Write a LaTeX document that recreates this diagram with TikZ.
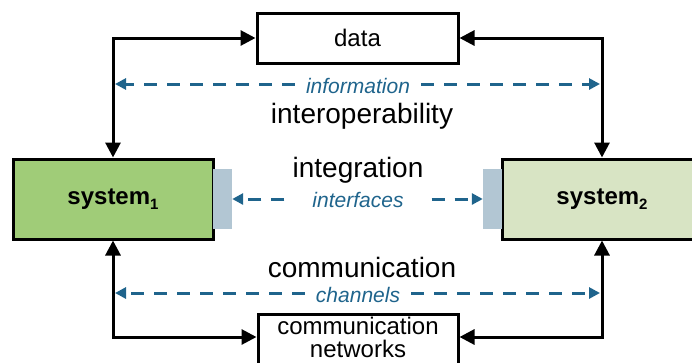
\documentclass[tikz,border=0pt]{standalone}
\usepackage{fontspec}
\setmainfont{Liberation Sans}
\usetikzlibrary{arrows.meta}
\definecolor{sysgreen}{RGB}{160,204,120}
\definecolor{syslight}{RGB}{216,228,196}
\definecolor{ifblue}{RGB}{178,198,211}
\definecolor{linkblue}{RGB}{31,100,140}
\tikzset{
  box/.style={draw=black, line width=3pt, rectangle, inner sep=0pt, align=center},
  sysbox/.style={box, minimum width=200pt, minimum height=80pt, font=\fontsize{24}{26}\selectfont\bfseries},
  ifbox/.style={fill=ifblue, draw=none, minimum width=19pt, minimum height=60pt, inner sep=0pt},
  conn/.style={line width=3pt, {Triangle[length=15pt,width=15pt]}-{Triangle[length=15pt,width=15pt]}},
  dhalf/.style={draw=linkblue, line width=3pt, dash pattern=on 13pt off 10pt,
    -{Triangle[length=11pt,width=11pt]}},
  big/.style={font=\fontsize{28}{30}\selectfont},
  blab/.style={font=\fontsize{21}{23}\selectfont\itshape, text=linkblue, inner ysep=2pt}
}
\newcommand{\subidx}[1]{{\fontsize{15}{15}\selectfont\raisebox{-5pt}{#1}}}
\begin{document}
\begin{tikzpicture}[x=1pt,y=-1pt]
\useasboundingbox (0,0) rectangle (692,362);
\clip (0,0) rectangle (692,362);
% boxes
\node[box, minimum width=201pt, minimum height=50pt, font=\fontsize{24}{26}\selectfont] (data) at (357.5,38) {data};
\node[box, anchor=north, minimum width=200pt, minimum height=80pt] (comm) at (358,313) {};
\node[align=center, inner sep=0pt, font=\fontsize{24}{23}\selectfont] (commtext) at (358,337) {communication\\networks};
\node[sysbox, fill=sysgreen] (sys1) at (113,199) {system\subidx{1}};
\node[sysbox, fill=syslight] (sys2) at (602,199) {system\subidx{2}};
\node[ifbox] (if1) at (222.5,199) {};
\node[ifbox] (if2) at (492.5,199) {};
% black connectors
\draw[conn] (sys1.north) |- (data.west);
\draw[conn] (sys2.north) |- (data.east);
\draw[conn] (sys1.south) |- (comm.west |- commtext.center);
\draw[conn] (sys2.south) |- (comm.east |- commtext.center);
% labels
\node[blab, inner xsep=11pt] (info) at (358,86) {information};
\node[blab, inner xsep=11pt] (chan) at (358,295) {channels};
\node[blab, inner xsep=28pt] (intf) at (358,200) {interfaces};
\node[big] (interop) at (362,116) {interoperability};
\node[big] (integ) at (358,170) {integration};
\node[big] (commu) at (362,267) {communication};
% dashed connectors
\coordinate (i1) at (115,84);
\coordinate (i2) at (600,84);
\coordinate (c1) at (115,293);
\coordinate (c2) at (600,293);
\draw[dhalf] (info.west |- i1) -- (i1);
\draw[dhalf] (info.east |- i2) -- (i2);
\draw[dhalf] (chan.west |- c1) -- (c1);
\draw[dhalf] (chan.east |- c2) -- (c2);
\draw[dhalf] (intf.west |- if1.east) -- (if1.east);
\draw[dhalf] (intf.east |- if2.west) -- (if2.west);
\end{tikzpicture}
\end{document}
